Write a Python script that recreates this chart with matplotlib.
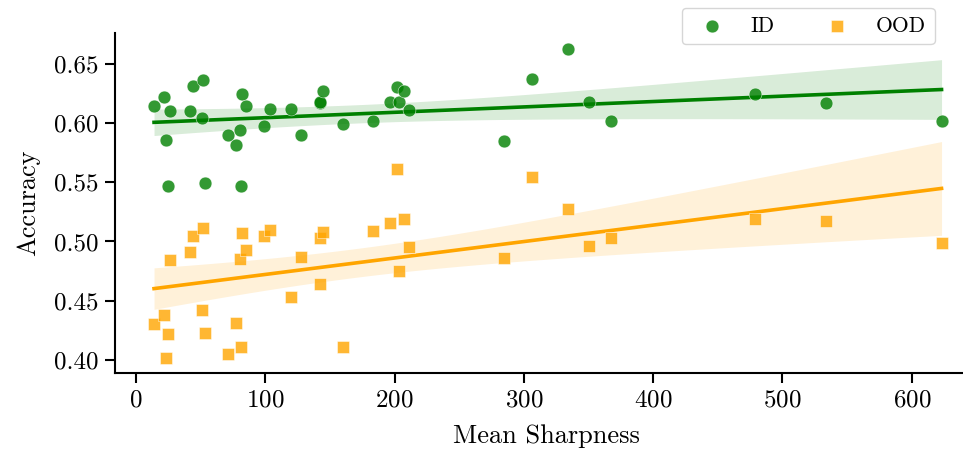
import numpy as np
import matplotlib
matplotlib.use("Agg")
import matplotlib.pyplot as plt

plt.rcParams['font.family'] = 'serif'
plt.rcParams['font.serif'] = ['cmr10', 'DejaVu Serif']
plt.rcParams['mathtext.fontset'] = 'cm'
plt.rcParams['axes.formatter.use_mathtext'] = True

# mean sharpness per model (shared by both series)
sharpness = [14, 22, 23, 25, 26.5, 41.5, 44, 51, 52, 53.5, 71.5, 77, 80.5, 81.5,
             82, 85, 99, 104, 120, 128, 142, 142.5, 144.5, 160, 183, 196.5, 202,
             203.5, 207, 211, 284.5, 306.5, 334.5, 350.5, 367.5, 479, 534, 623]
acc_id = [0.614, 0.622, 0.586, 0.547, 0.610, 0.610, 0.631, 0.604, 0.636, 0.549,
          0.590, 0.581, 0.594, 0.547, 0.624, 0.614, 0.597, 0.612, 0.612, 0.590,
          0.617, 0.618, 0.627, 0.599, 0.602, 0.618, 0.630, 0.618, 0.627, 0.611,
          0.585, 0.637, 0.662, 0.618, 0.602, 0.624, 0.617, 0.602]
acc_ood = [0.430, 0.438, 0.402, 0.422, 0.484, 0.491, 0.505, 0.442, 0.511, 0.423,
           0.405, 0.431, 0.485, 0.411, 0.507, 0.493, 0.505, 0.510, 0.453, 0.487,
           0.503, 0.464, 0.508, 0.411, 0.509, 0.516, 0.561, 0.475, 0.519, 0.495,
           0.486, 0.554, 0.527, 0.496, 0.503, 0.519, 0.517, 0.499]


def reg_band(x, y, grid, t=2.028):
    # ordinary least squares fit and its 95% confidence band
    x = np.asarray(x)
    y = np.asarray(y)
    b, a = np.polyfit(x, y, 1)
    fit = a + b * grid
    n = len(x)
    resid = y - (a + b * x)
    s = np.sqrt(np.sum(resid ** 2) / (n - 2))
    se = s * np.sqrt(1 / n + (grid - x.mean()) ** 2 / np.sum((x - x.mean()) ** 2))
    return fit, fit - t * se, fit + t * se


fig = plt.figure(figsize=(9.63, 4.5), dpi=100)
# the axes run a little past the right edge of the figure, as in the original
ax = fig.add_axes([0.1194, 0.171, 0.897, 0.756])

grid = np.linspace(min(sharpness), max(sharpness), 100)
for y, col, mk, lab in [(acc_id, 'green', 'o', 'ID'), (acc_ood, 'orange', 's', 'OOD')]:
    ax.scatter(sharpness, y, color=col, marker=mk, s=85, alpha=0.8,
               edgecolor='white', linewidth=0.4, label=lab, zorder=3)
    fit, lo, hi = reg_band(sharpness, y, grid)
    ax.fill_between(grid, lo, hi, color=col, alpha=0.15, linewidth=0, zorder=1)
    ax.plot(grid, fit, color=col, lw=2.6, zorder=2)

ax.set_xlim(-16.2, 651.8)
ax.set_ylim(0.389, 0.676)
ax.set_xticks([0, 100, 200, 300, 400, 500, 600])
ax.set_yticks([0.40, 0.45, 0.50, 0.55, 0.60, 0.65])
ax.set_yticklabels(['0.40', '0.45', '0.50', '0.55', '0.60', '0.65'])
ax.spines['top'].set_visible(False)
ax.spines['right'].set_visible(False)
for s in ['left', 'bottom']:
    ax.spines[s].set_linewidth(1.5)
ax.tick_params(labelsize=18, length=7, width=1.5, pad=5)
ax.set_xlabel('Mean Sharpness', fontsize=19, labelpad=9)
ax.set_ylabel('Accuracy', fontsize=19, labelpad=10)

ax.legend(loc='upper right', bbox_to_anchor=(0.949, 1.074), borderaxespad=0,
          ncol=2, fontsize=15.5, handletextpad=0.8, columnspacing=1.9)

fig.savefig('out.png', dpi=100)
